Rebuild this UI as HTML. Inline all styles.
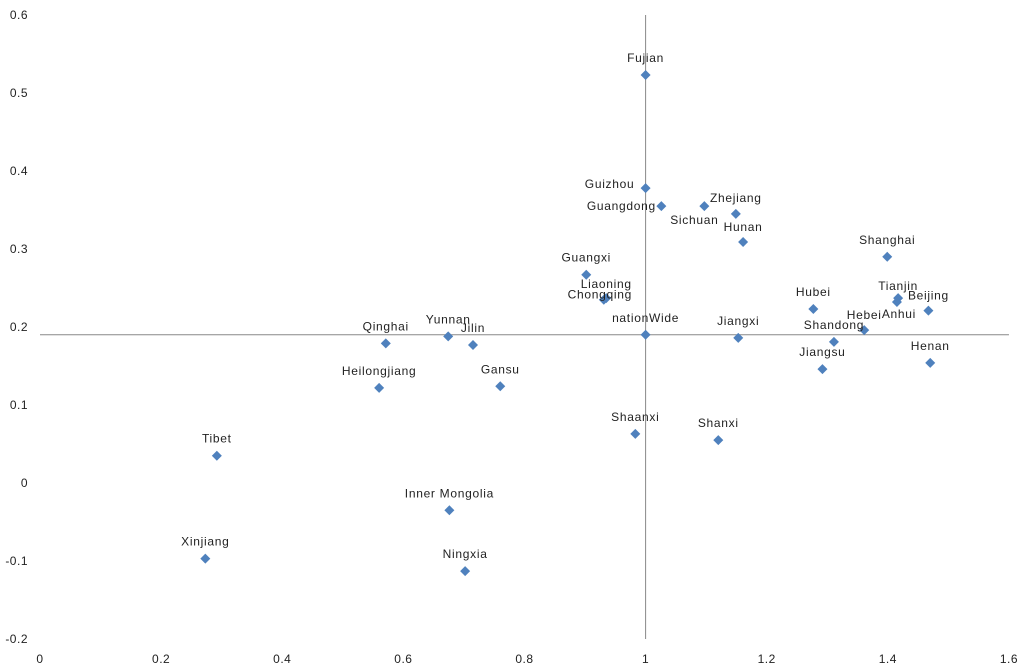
<!DOCTYPE html>
<html><head><meta charset="utf-8"><style>
html,body{margin:0;padding:0;background:#fff;}
svg{display:block;font-family:"Liberation Sans",sans-serif;}
</style></head><body>
<svg id="chart" width="1024" height="670" viewBox="0 0 1024 670" xmlns="http://www.w3.org/2000/svg"></svg>
<script>
const names=["Fujian","Guizhou","Guangdong","Sichuan","Zhejiang","Hunan","Guangxi","Liaoning","Chongqing","nationWide","Jiangxi","Shanghai","Tianjin","Anhui","Beijing","Hubei","Hebei","Shandong","Jiangsu","Henan","Shaanxi","Shanxi","Qinghai","Yunnan","Jilin","Heilongjiang","Gansu","Tibet","Inner Mongolia","Xinjiang","Ningxia"];
const xValues=[1,1,1.026,1.097,1.149,1.161,0.902,0.935,0.931,1,1.153,1.399,1.417,1.415,1.467,1.277,1.361,1.311,1.292,1.470,0.983,1.120,0.571,0.674,0.715,0.560,0.760,0.292,0.676,0.273,0.702];
const yValues=[0.523,0.378,0.355,0.355,0.345,0.309,0.267,0.237,0.235,0.19,0.186,0.290,0.237,0.232,0.221,0.223,0.196,0.181,0.146,0.154,0.063,0.055,0.179,0.188,0.177,0.122,0.124,0.035,-0.035,-0.097,-0.113];
const xTicks=[0,0.2,0.4,0.6,0.8,1,1.2,1.4,1.6];
const yTicks=[0.6,0.5,0.4,0.3,0.2,0.1,0,-0.1,-0.2];
const xTickLabels=["0","0.2","0.4","0.6","0.8","1","1.2","1.4","1.6"];
const yTickLabels=["0.6","0.5","0.4","0.3","0.2","0.1","0","-0.1","-0.2"];
const xCross=0.19, yCross=1;

const X=v=>40+v*605.6;
const Y=v=>483-v*780;
const svg=document.getElementById('chart');
const NS="http://www.w3.org/2000/svg";
function mk(t,a){const e=document.createElementNS(NS,t);for(const k in a)e.setAttribute(k,a[k]);svg.appendChild(e);return e;}

let l=mk('line',{x1:X(0),x2:X(1.6),y1:Y(xCross),y2:Y(xCross),stroke:'#888','stroke-width':1});


l=mk('line',{x1:X(yCross),x2:X(yCross),y1:Y(0.6),y2:Y(-0.2),stroke:'#888','stroke-width':1});



xTicks.forEach((v,i)=>{
  const t=mk('text',{x:X(v),y:663,'font-size':12,fill:'#222','text-anchor':'middle','letter-spacing':0.5});
  t.textContent=xTickLabels[i];
  
  
});
yTicks.forEach((v,i)=>{
  const t=mk('text',{x:28,y:Y(v)+4,'font-size':12,fill:'#222','text-anchor':'end','letter-spacing':0.5});
  t.textContent=yTickLabels[i];
  
  
});

const off={"Guizhou":[-36,-4],"Guangdong":[-40,0],"Sichuan":[-10,14],"Liaoning":[0,-14],"Chongqing":[-4,-5],"Anhui":[2,12],"Hebei":[0,-15],"Beijing":[0,-15],"Tianjin":[0,-12],"Zhejiang":[0,-16],"Hunan":[0,-15],"nationWide":[0,-17]};
names.forEach((n,i)=>{
  const cx=X(xValues[i]),cy=Y(yValues[i]);
  const p=mk('polygon',{points:`${cx},${cy-5} ${cx+5},${cy} ${cx},${cy+5} ${cx-5},${cy}`,fill:'#4f81bd'});
  
  
  const o=off[n]||[0,-17];
  const t=mk('text',{x:cx+o[0],y:cy+o[1]+4,'font-size':12,fill:'#222','text-anchor':'middle','letter-spacing':0.7});
  t.textContent=n;
  
  
});
</script>
</body></html>
